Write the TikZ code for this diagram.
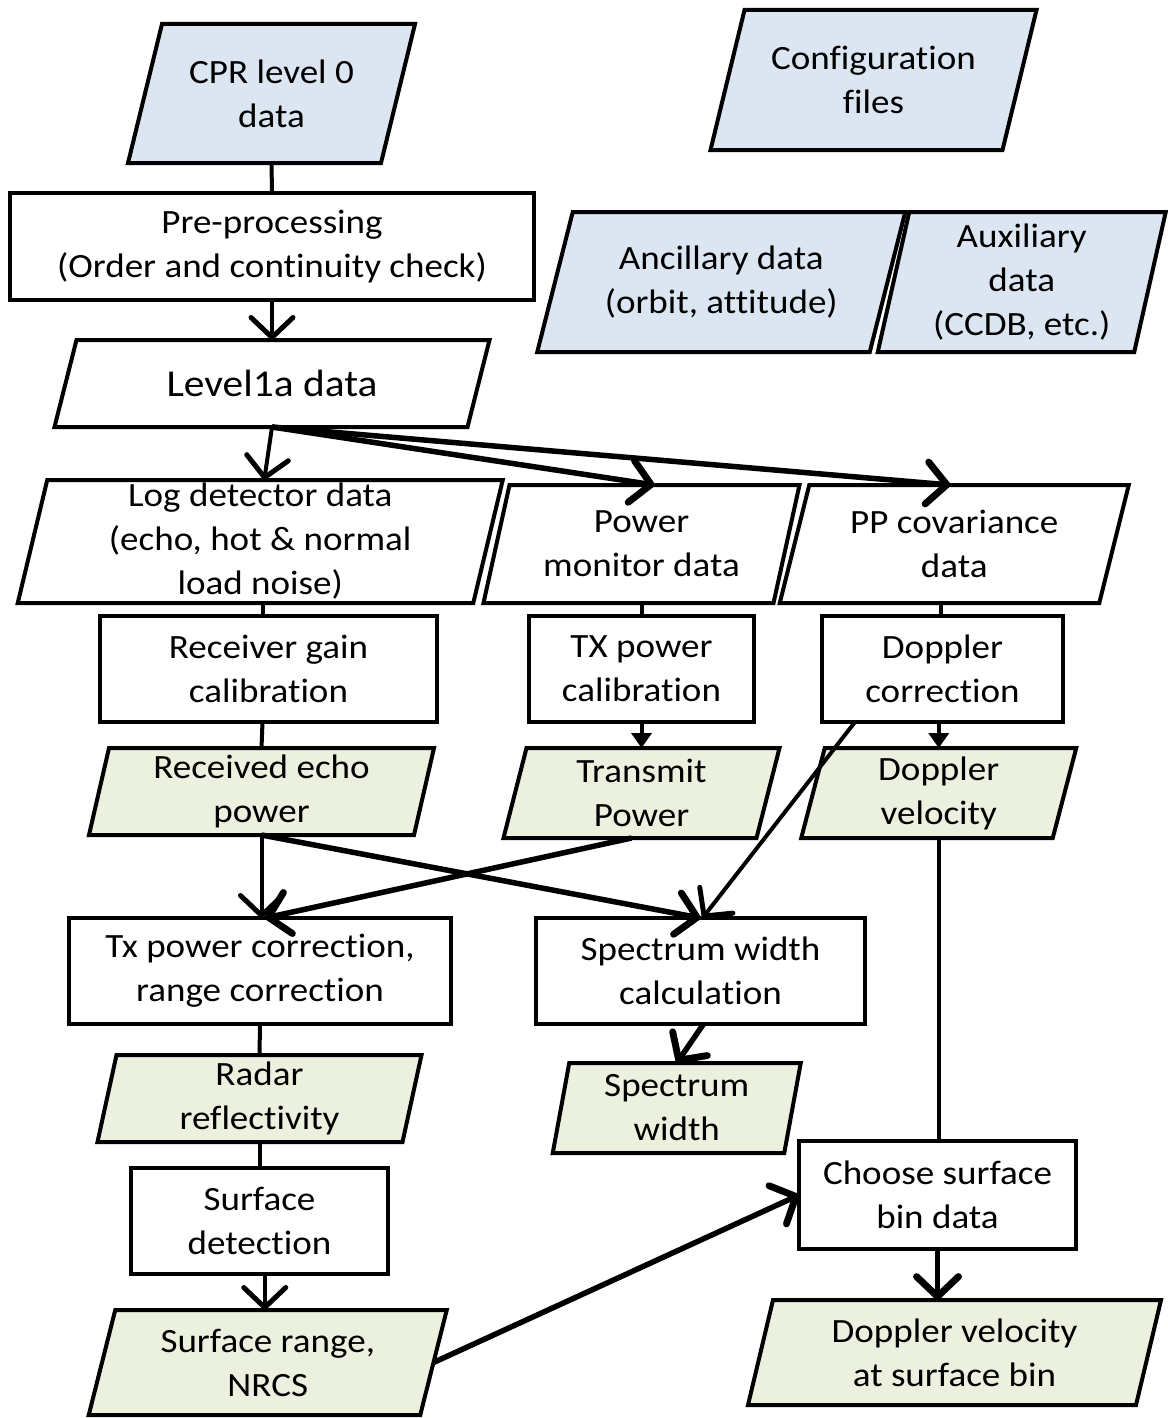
\documentclass[tikz,border=0pt]{standalone}
\usepackage{fontspec}
\setmainfont{Carlito}[FakeStretch=1.09, Ligatures=NoCommon]
\usetikzlibrary{calc,arrows.meta,backgrounds}
\definecolor{inblue}{HTML}{DCE6F2}
\definecolor{ingreen}{HTML}{EBF1DE}
\tikzset{
  txt/.style={inner sep=0pt, outer sep=0pt, align=center, font=\fontsize{34}{44}\selectfont},
  shapeline/.style={draw=black, line width=4pt, line join=miter},
  procbox/.style={txt, shapeline, fill=white},
  conn/.style={line width=4pt},
  thickconn/.style={line width=5.5pt},
  arr/.style={-{Straight Barb[length=20pt,width=42pt,line width=0pt 1.25,round]}},
  smallarr/.style={-{Triangle[length=15pt,width=20pt]}},
}
% #1 name, #2 centre, #3 width, #4 height, #5 half slant, #6 fill, #7 text
\newcommand\pgram[7]{%
  \node[txt, minimum width=#3pt, minimum height=#4pt] (#1) at (#2) {#7};
  \begin{scope}[on background layer]
    \draw[shapeline, fill=#6]
      ($(#1.north west)+(#5pt,0)$) -- ($(#1.north east)+(#5pt,0)$) --
      ($(#1.south east)-(#5pt,0)$) -- ($(#1.south west)-(#5pt,0)$) -- cycle;
  \end{scope}}
\begin{document}
\begin{tikzpicture}[x=1pt,y=-1pt]
\useasboundingbox (0,0) rectangle (1167,1418);
% data (blue)
\pgram{cpr}{271.5,93.5}{253}{139}{17}{inblue}{CPR level 0\\data}
\pgram{cfg}{873.5,80}{292}{140}{17}{inblue}{Configuration\\files}
\pgram{anc}{721.25,282}{332.5}{140}{17.75}{inblue}{Ancillary data\\(orbit, attitude)}
\pgram{aux}{1021.75,282}{256.5}{140}{15.75}{inblue}{Auxiliary\\data\\(CCDB, etc.)}
% white data
\pgram{lone}{272,383.5}{413}{87}{11}{white}{\fontsize{38}{44}\selectfont Level1a data}
\pgram{log}{260.25,541.5}{455.5}{123}{14.75}{white}{Log detector data\\(echo, hot \& normal\\load noise)}
\pgram{pm}{641.5,544}{290}{118}{13}{white}{Power\\monitor data}
\pgram{pp}{954.25,544}{319.5}{118}{14.75}{white}{PP covariance\\data}
% green products
\pgram{rec}{261.5,791.5}{325}{87}{10}{ingreen}{Received echo\\power}
\pgram{tp}{641.5,793}{253}{90}{11.5}{ingreen}{Transmit\\Power}
\pgram{dv}{938.75,793}{251.5}{90}{11.75}{ingreen}{Doppler\\velocity}
\pgram{rr}{259.5,1098.5}{305}{87}{9.5}{ingreen}{Radar\\reflectivity}
\pgram{sw}{676.75,1108}{231.5}{90}{8.25}{ingreen}{Spectrum\\width}
\pgram{sr}{267.75,1362.5}{331.5}{105}{13.25}{ingreen}{Surface range,\\NRCS}
\pgram{dvs}{954.5,1352.5}{388}{105}{12.5}{ingreen}{Doppler velocity\\at surface bin}
% process boxes
\node[procbox, minimum width=524pt, minimum height=107pt] (pre) at (272,246.5) {Pre-processing\\(Order and continuity check)};
\node[procbox, minimum width=337pt, minimum height=106pt] (rgc) at (268.5,669) {Receiver gain\\calibration};
\node[procbox, minimum width=225pt, minimum height=106pt] (tpc) at (641.5,669) {TX power\\calibration};
\node[procbox, minimum width=241pt, minimum height=106pt] (dc) at (942.5,669) {Doppler\\correction};
\node[procbox, minimum width=382pt, minimum height=106pt] (txc) at (260,971) {Tx power correction,\\range correction};
\node[procbox, minimum width=329pt, minimum height=106pt] (swc) at (700.5,971) {Spectrum width\\calculation};
\node[procbox, minimum width=257pt, minimum height=106pt] (sd) at (259.5,1221) {Surface\\detection};
\node[procbox, minimum width=277pt, minimum height=108pt] (csb) at (937.5,1195) {Choose surface\\bin data};
% connectors
\draw[conn] (cpr.south) -- (pre.north);
\draw[conn, arr] (pre.south) -- (lone.north);
\draw[conn, arr] (lone.south) -- ($(log.north)+(4,0)$);
\draw[thickconn, arr] (lone.south) -- ($(pm.north)+(13,0)$);
\draw[thickconn, arr] (lone.south) -- ($(pp.north)+(-4,0)$);
\draw[conn] (log.south -| rgc.north) ++(-6,0) -- ($(rgc.north)+(-6,0)$);
\draw[conn] (pm.south) -- (tpc.north);
\draw[conn] (pp.south -| dc.north) ++(-2,0) -- ($(dc.north)+(-2,0)$);
\draw[conn] ($(rgc.south)+(-6,0)$) -- (rec.north);
\draw[conn, smallarr] (tpc.south) -- (tp.north);
\draw[conn, smallarr] (dv.north |- dc.south) -- (dv.north);
\draw[conn, arr] (rec.south) -- (rec.south |- txc.north);
\draw[thickconn, arr] (rec.south) -- (swc.north);
\draw[thickconn, arr] ($(tp.south)+(-10,0)$) -- ($(txc.north)+(5,0)$);
\draw[conn, arr] ($(dc.south west)+(33,0)$) -- ($(swc.north)+(2,0)$);
\draw[line width=3.5pt] (dv.south) -- (dv.south |- csb.north);
\draw[conn] (txc.south) -- (rr.north);
\draw[conn] (rr.south) -- (sd.north);
\draw[thickconn, arr] ($(swc.south)+(3,0)$) -- (sw.north);
\draw[conn, arr] (sr.north |- sd.south) ++(-3,0) -- ($(sr.north)+(-3,0)$);
\draw[thickconn, arr] (sr.east) -- (csb.west);
\draw[thickconn, arr] (csb.south) -- (csb.south |- dvs.north);
\end{tikzpicture}
\end{document}
